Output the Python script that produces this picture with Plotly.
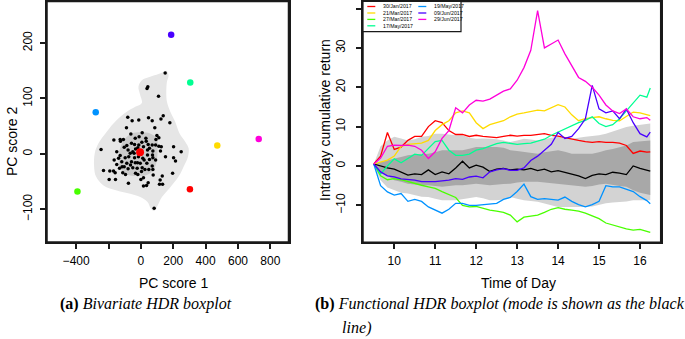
import plotly.graph_objects as go

# ---------------- Panel (a): bivariate HDR boxplot ----------------
pc1_points = [150, 43, 38, 109, -81, -54, -13, 47, 70, 124, 138, 179, 86, -89, -62, 8, 99, 111, 93, 31,
              -11, -35, -58, -39, -13, 6, 33, 45, 70, 91, 111, 126, 202, 249, -246, -167, -128, -108, -126, -103,
              -87, -79, -66, -50, -33, 16, 41, 53, 74, 121, 152, 202, 214, -15, 12, 20, 74, 41, -149, -128,
              -138, -97, -75, -165, -118, -87, -64, -35, -50, -23, 8, 25, 49, 70, 74, -79, -116, -132, -169, -192,
              -231, -159, -112, -95, 4, -33, -19, 76, 132, 196, 119, 16, 0, -157, -196, -77, 134, 115, 45, 35,
              16, 82, -19, -4, -39, -58, -21, -42, 53, 72, -103, -149, -4, 37, 91]
pc2_points = [146, 121, 118, 104, 66, 60, 61, 65, 60, 63, 69, 56, 47, 47, 36, 38, 33, 29, 26, 28,
              31, 28, 19, 17, 16, 21, 23, 17, 16, 16, 14, 13, 13, 4, 8, 25, 26, 26, 23, 12,
              15, 7, 1, 4, 9, 13, 7, 10, 5, 5, -5, -7, -13, -5, -8, -11, -7, -2, 4, -3,
              -8, -7, -5, -11, -14, -17, -20, -16, -25, -26, -25, -28, -28, -22, -28, -27, -23, -26, -31, -31,
              -30, -34, -34, -37, -32, -35, -37, -38, -40, -35, -47, -43, -46, -46, -46, -53, -55, -55, -52, -57,
              -58, -98, 11, 4, -7, -14, -16, 1, -10, -2, -23, -19, -17, -17, -11]

outlier_pc1 = [187, 305, -279, 472, 728, 303, -392]
outlier_pc2 = [215, 129, 75, 15, 27, -64, -68]
outlier_colors = ["#4900FF", "#00FF92", "#0092FF", "#FFDB00", "#FF00DB", "#FF0000", "#49FF00"]
mode_pc1 = [-5]
mode_pc2 = [3]

hdr_outer_pc1 = [157, 171, 161, 157, 161, 182, 212, 239, 274, 295, 291, 264, 233, 182, 130, 99, 82, 62, 41, -4,
                 -66, -149, -231, -277, -289, -285, -262, -211, -149, -87, -35, 6, -4, -15, 6, 57, 109, 140]
hdr_outer_pc2 = [150, 142, 130, 112, 94, 76, 58, 37, 22, 10, -5, -23, -41, -60, -78, -96, -103, -99, -87, -78,
                 -72, -66, -57, -41, -23, 1, 19, 40, 61, 76, 85, 92, 106, 121, 133, 139, 144, 148]
hdr_inner_pc1 = [-4, 57, 99, 103, 99, 78, 37, -25, -87, -128, -138, -128, -97, -56]
hdr_inner_pc2 = [39, 37, 28, 10, -11, -29, -38, -40, -37, -26, -8, 10, 28, 37]

pc1_ticks = [-400, -200, 0, 200, 400, 600, 800]
pc1_ticktext = ["\u2212400", "", "0", "200", "400", "600", "800"]
pc2_ticks = [-100, 0, 100, 200]

# ---------------- Panel (b): functional HDR boxplot ----------------
time_minutes = [570, 580, 590, 600, 610, 620, 630, 640, 650, 660, 670, 680, 690, 700, 710, 720, 730, 740,
                750, 760, 770, 780, 790, 800, 810, 820, 830, 840, 850, 860, 870, 880, 890, 900, 910, 920,
                930, 940, 950, 960, 970, 975]

mode_curve = [0.5, 0.0, -0.5, -0.8, -1.5, -2.3, -2.0, -2.2, -1.0, -2.2, -1.5, -2.0, -0.5, 1.2, -0.5, 0.2,
              -0.3, -1.4, -0.8, -0.6, -1.0, -0.8, -1.0, -0.6, -1.2, -0.8, -1.5, -1.2, -1.6, -2.0, -2.5, -3.2,
              -2.4, -2.0, -2.2, -1.6, -1.8, -2.2, 0.0, -0.6, -1.0, -1.3]
band95_upper = [0.5, 5.0, 6.5, 7.4, 7.0, 6.5, 6.8, 7.4, 7.6, 8.2, 8.2, 8.0, 7.8, 7.8, 7.2, 6.9, 7.0, 6.9,
                6.8, 6.5, 6.1, 6.5, 6.9, 6.7, 6.5, 6.8, 7.2, 7.4, 7.0, 6.9, 7.2, 7.4, 7.6, 7.8, 8.2, 8.8,
                9.5, 9.9, 10.2, 10.5, 10.8, 10.8]
band95_lower = [0.2, -3.6, -5.5, -6.2, -6.8, -7.0, -7.4, -7.8, -7.9, -8.3, -8.7, -8.7, -8.7, -8.5, -8.2,
                -7.9, -8.2, -8.7, -8.7, -8.5, -7.9, -8.3, -8.7, -8.9, -9.1, -9.5, -10.0, -10.4, -10.4,
                -10.4, -10.4, -10.4, -10.3, -10.0, -9.5, -9.3, -9.1, -9.0, -8.7, -8.7, -8.7, -8.7]
band50_upper = [0.5, 1.0, 1.5, 1.9, 2.3, 2.7, 2.9, 3.0, 3.1, 3.5, 4.0, 4.0, 4.0, 4.0, 4.4, 4.8, 4.8, 4.8,
                4.8, 4.6, 4.0, 3.8, 3.6, 3.3, 3.1, 3.5, 3.8, 4.0, 3.6, 3.1, 3.1, 3.1, 3.1, 3.5, 4.0, 4.3,
                4.8, 5.2, 6.1, 6.3, 6.5, 6.5]
band50_lower = [0.2, -1.5, -2.5, -3.6, -4.0, -4.5, -4.7, -4.9, -4.9, -5.1, -5.3, -5.1, -4.9, -4.9, -4.7,
                -4.5, -4.7, -4.9, -4.8, -4.6, -4.5, -4.2, -4.0, -4.0, -4.0, -4.2, -4.4, -4.5, -4.7, -4.9,
                -5.1, -5.3, -5.1, -4.7, -4.5, -4.8, -5.1, -5.3, -6.2, -6.8, -7.2, -7.4]

ret_30jan = [0.5, 2.5, 8.5, 4.2, 4.8, 6.5, 7.5, 7.5, 10.0, 11.5, 11.0, 9.0, 8.0, 8.0, 7.5, 7.8, 7.5, 7.4,
             7.2, 7.5, 7.8, 7.6, 7.8, 7.8, 8.0, 8.2, 7.8, 7.6, 7.2, 6.8, 6.5, 6.2, 6.0, 6.2, 6.0, 6.0, 5.8,
             5.2, 3.2, 3.8, 3.5, 3.6]
ret_21mar = [0.5, 1.0, 1.5, 2.5, 5.0, 5.5, 5.7, 5.8, 6.5, 9.0, 10.5, 11.5, 13.5, 14.0, 13.5, 11.0, 9.5,
             10.5, 11.0, 11.5, 12.5, 13.2, 13.5, 13.8, 14.2, 14.0, 14.8, 15.6, 15.0, 13.0, 11.5, 12.0, 12.3,
             12.5, 12.0, 11.6, 11.5, 12.5, 13.7, 13.5, 13.0, 12.8]
ret_27mar = [0.5, -2.5, -3.5, -3.2, -3.5, -4.0, -4.5, -4.9, -5.3, -5.7, -6.5, -7.3, -8.0, -10.0, -10.4,
             -10.3, -10.8, -11.2, -11.5, -11.8, -12.5, -14.2, -13.0, -12.8, -12.5, -11.8, -11.0, -10.6,
             -11.0, -11.2, -11.5, -12.0, -12.6, -13.4, -14.5, -15.0, -15.5, -16.0, -16.3, -16.1, -16.6, -16.9]
ret_17may = [0.5, -2.0, 0.0, 1.8, 0.8, 1.9, 3.0, 2.7, 4.4, 6.2, 6.5, 4.0, 2.7, 2.7, 3.0, 4.0, 4.4, 5.0,
             5.7, 6.0, 5.7, 5.5, 5.7, 5.8, 6.3, 6.8, 7.8, 8.6, 9.5, 10.3, 11.0, 11.6, 12.5, 10.8, 10.0, 10.5,
             12.0, 14.0, 16.0, 18.0, 17.5, 19.8]
ret_19may = [0.5, -5.0, -6.6, -7.4, -7.0, -9.0, -8.5, -9.0, -10.4, -11.2, -12.0, -11.0, -9.5, -9.5, -10.0,
             -10.0, -9.8, -9.6, -9.5, -8.5, -8.0, -6.5, -4.6, -7.8, -8.5, -8.3, -8.5, -8.7, -7.9, -9.0, -9.8,
             -10.4, -9.8, -9.0, -5.0, -5.3, -5.3, -5.8, -6.5, -7.8, -8.8, -9.6]
ret_09jun = [0.5, -1.5, -2.5, -2.8, -3.3, -3.5, -3.6, -4.0, -4.0, -4.0, -3.8, -3.6, -3.2, -3.4, -2.8, -2.6,
             -3.0, -1.5, -1.0, -0.7, -1.1, -1.1, -0.5, 1.4, 2.5, 4.0, 5.5, 8.5, 7.0, 7.5, 9.5, 12.0, 20.5,
             14.5, 13.5, 14.0, 12.0, 14.5, 11.0, 8.2, 7.4, 8.6]
ret_29jun = [0.5, 2.0, 5.0, 5.3, 5.2, 5.3, 5.0, 4.0, 1.9, 3.6, 7.0, 9.0, 14.8, 13.5, 15.5, 16.7, 16.5, 17.0,
             18.0, 19.0, 19.6, 21.8, 25.0, 29.4, 39.5, 30.0, 31.0, 32.0, 28.5, 25.5, 22.5, 21.5, 20.0, 18.0,
             15.5, 14.0, 13.3, 14.5, 12.5, 12.0, 12.3, 11.6]

series_values = [ret_30jan, ret_21mar, ret_27mar, ret_17may, ret_19may, ret_09jun, ret_29jun]
series_labels = ["30/Jan/2017", "21/Mar/2017", "27/Mar/2017", "17/May/2017",
                 "19/May/2017", "09/Jun/2017", "29/Jun/2017"]
series_colors = ["#FF0000", "#FFDB00", "#49FF00", "#00FF92", "#0092FF", "#4900FF", "#FF00DB"]

hours = [m / 60 for m in time_minutes]

W, H = 685, 339
SANS = "Liberation Sans, Arial, sans-serif"
SERIF = "Liberation Serif, Times New Roman, serif"

# panel boxes (pixels)
A_L, A_R, A_T, A_B = 47, 288.5, 1.5, 242
B_L, B_R, B_T, B_B = 363, 660.7, 1.5, 242.3


def px_x(p):
    return p / W


def px_y(p):
    return 1 - p / H


fig = go.Figure()

# --- panel (a) ---
fig.add_trace(go.Scatter(x=hdr_outer_pc1 + hdr_outer_pc1[:1], y=hdr_outer_pc2 + hdr_outer_pc2[:1],
                         mode="lines", fill="toself", fillcolor="#E6E6E6",
                         line=dict(width=0, shape="spline", smoothing=1.0, color="#E6E6E6"),
                         hoverinfo="skip", showlegend=False, xaxis="x", yaxis="y"))
fig.add_trace(go.Scatter(x=hdr_inner_pc1 + hdr_inner_pc1[:1], y=hdr_inner_pc2 + hdr_inner_pc2[:1],
                         mode="lines", fill="toself", fillcolor="#CBCBCB",
                         line=dict(width=0, shape="spline", smoothing=1.0, color="#CBCBCB"),
                         hoverinfo="skip", showlegend=False, xaxis="x", yaxis="y"))
fig.add_trace(go.Scatter(x=pc1_points, y=pc2_points, mode="markers",
                         marker=dict(size=3.5, color="black"), showlegend=False, xaxis="x", yaxis="y"))
fig.add_trace(go.Scatter(x=outlier_pc1, y=outlier_pc2, mode="markers",
                         marker=dict(size=6.5, color=outlier_colors), showlegend=False, xaxis="x", yaxis="y"))
fig.add_trace(go.Scatter(x=mode_pc1, y=mode_pc2, mode="markers",
                         marker=dict(size=8, color="#FF0000"), showlegend=False, xaxis="x", yaxis="y"))

# --- panel (b) ---
fig.add_trace(go.Scatter(x=hours + hours[::-1], y=band95_upper + band95_lower[::-1],
                         mode="lines", fill="toself", fillcolor="#D3D3D3", line=dict(width=0),
                         hoverinfo="skip", showlegend=False, xaxis="x2", yaxis="y2"))
fig.add_trace(go.Scatter(x=hours + hours[::-1], y=band50_upper + band50_lower[::-1],
                         mode="lines", fill="toself", fillcolor="#A8A8A8", line=dict(width=0),
                         hoverinfo="skip", showlegend=False, xaxis="x2", yaxis="y2"))
fig.add_trace(go.Scatter(x=hours, y=mode_curve, mode="lines", line=dict(color="black", width=1.3),
                         showlegend=False, xaxis="x2", yaxis="y2"))
for vals, lab, col in zip(series_values, series_labels, series_colors):
    fig.add_trace(go.Scatter(x=hours, y=vals, mode="lines", name=lab,
                             line=dict(color=col, width=1.3), showlegend=False,
                             xaxis="x2", yaxis="y2"))

axis_common = dict(showline=True, mirror=True, linecolor="#1a1a1a", linewidth=1.5,
                   ticks="outside", ticklen=5, tickcolor="#1a1a1a", tickwidth=1.5,
                   showgrid=False, zeroline=False, automargin=False,
                   tickfont=dict(family=SANS, size=12, color="black"))

fig.update_layout(
    width=W, height=H, autosize=False,
    margin=dict(l=0, r=0, t=0, b=0, pad=0),
    paper_bgcolor="white", plot_bgcolor="white",
    showlegend=False,
    xaxis=dict(domain=[px_x(A_L), px_x(A_R)], range=[-580, 912],
               tickvals=pc1_ticks, ticktext=pc1_ticktext, anchor="y", ticklabelstandoff=2, **axis_common),
    yaxis=dict(domain=[px_y(A_B), px_y(A_T)], range=[-159, 275],
               tickvals=pc2_ticks, tickangle=-90, anchor="x", ticklabelstandoff=3, **axis_common),
    xaxis2=dict(domain=[px_x(B_L), px_x(B_R)], range=[9.237, 16.505],
                tickvals=[10, 11, 12, 13, 14, 15, 16], anchor="y2", ticklabelstandoff=2, **axis_common),
    yaxis2=dict(domain=[px_y(B_B), px_y(B_T)], range=[-19.4, 41.8],
                tickvals=[-10, 0, 10, 20, 30, 40], tickangle=-90, anchor="x2", ticklabelstandoff=6,
                **axis_common),
)

annotations = [
    dict(text="PC score 1", x=px_x(173), y=px_y(283), font=dict(family=SANS, size=14)),
    dict(text="PC score 2", x=px_x(12), y=px_y(142), textangle=-90, font=dict(family=SANS, size=14)),
    dict(text="Time of Day", x=px_x(518), y=px_y(283), font=dict(family=SANS, size=14)),
    dict(text="Intraday cumulative return", x=px_x(325), y=px_y(120), textangle=-90,
         font=dict(family=SANS, size=14)),
    dict(text="<b>(a)</b> <i>Bivariate HDR boxplot</i>", x=px_x(58), y=px_y(304), xanchor="left",
         font=dict(family=SERIF, size=16)),
    dict(text="<b>(b)</b> <i>Functional HDR boxplot (mode is shown as the black</i>", x=px_x(313),
         y=px_y(304), xanchor="left", font=dict(family=SERIF, size=16.1)),
    dict(text="<i>line)</i>", x=px_x(340), y=px_y(328), xanchor="left", font=dict(family=SERIF, size=16.1)),
]
for a in annotations:
    a.setdefault("xanchor", "center")
    a.update(xref="paper", yref="paper", yanchor="middle", showarrow=False)
    a["font"]["color"] = "black"

shapes = []
# plot frames (box around each panel)
for l, r, t, b in ((A_L, A_R, A_T, A_B), (B_L, B_R, B_T, B_B)):
    shapes.append(dict(type="rect", xref="paper", yref="paper", x0=px_x(l), x1=px_x(r),
                       y0=px_y(b), y1=px_y(t), line=dict(color="#1a1a1a", width=1.5),
                       layer="above"))

# manual legend (box, line samples, labels)
shapes.append(dict(type="rect", xref="paper", yref="paper", x0=px_x(363), x1=px_x(461), y0=px_y(31.7),
                   y1=px_y(1.5), line=dict(color="#1a1a1a", width=1.2), fillcolor="white", layer="above"))
legend_rows_y = [6.5, 13, 19.4, 25.8]
for i, (lab, col) in enumerate(zip(series_labels, series_colors)):
    colx = 0 if i < 4 else 1
    row = i if i < 4 else i - 4
    lx0 = 367.3 if colx == 0 else 418.3
    ty = legend_rows_y[row]
    shapes.append(dict(type="line", xref="paper", yref="paper", x0=px_x(lx0), x1=px_x(lx0 + 8),
                       y0=px_y(ty), y1=px_y(ty), line=dict(color=col, width=1.3), layer="above"))
    annotations.append(dict(text=lab, x=px_x(lx0 + 13.5), y=px_y(ty), xref="paper", yref="paper",
                            xanchor="left", yanchor="middle", showarrow=False,
                            font=dict(family=SANS, size=5.2, color="black")))

fig.update_layout(annotations=annotations, shapes=shapes)
fig.write_html("out.html", config={"displayModeBar": False},
               post_script="document.body.style.margin='0';")
